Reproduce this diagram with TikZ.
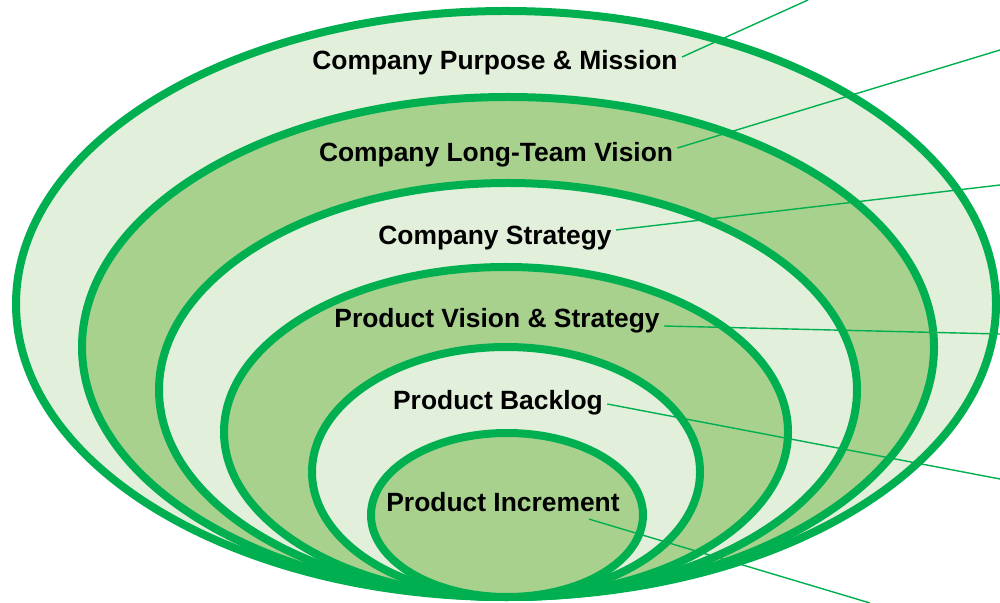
\documentclass[tikz,border=0pt]{standalone}
\usepackage{fontspec}
\setmainfont{Liberation Sans}
\usepackage{tikz}
\definecolor{ringline}{RGB}{0,176,80}
\definecolor{ringlight}{RGB}{226,239,218}
\definecolor{ringdark}{RGB}{169,209,142}

\begin{document}
\begin{tikzpicture}[x=0.5pt,y=-0.5pt,
  ring/.style={draw=ringline,line width=4pt},
  ringtext/.style={font=\fontsize{13.2}{15}\selectfont\bfseries,inner sep=2pt},
  pointer/.style={draw=ringline,line width=0.7pt}]
\fill[white] (0,0) rectangle (1000,603);
\useasboundingbox (0,0) rectangle (1000,603);

\filldraw[ring,fill=ringlight] (506,304) ellipse [x radius=490,y radius=293];
\filldraw[ring,fill=ringdark] (508,347) ellipse [x radius=426,y radius=250];
\filldraw[ring,fill=ringlight] (508,390) ellipse [x radius=349,y radius=207];
\filldraw[ring,fill=ringdark] (506,432) ellipse [x radius=282,y radius=165];
\filldraw[ring,fill=ringlight] (506,472) ellipse [x radius=194,y radius=125];
\filldraw[ring,fill=ringdark] (507,515) ellipse [x radius=136,y radius=82];

\node[ringtext] (purpose) at (495,63) {Company Purpose \& Mission};
\node[ringtext] (longterm) at (496,155) {Company Long-Team Vision};
\node[ringtext] (strategy) at (495,238) {Company Strategy};
\node[ringtext] (pvision) at (497,321) {Product Vision \& Strategy};
\node[ringtext] (backlog) at (498,403) {Product Backlog};
\node[ringtext] (increment) at (503,502) {Product Increment};

\coordinate (purposeend) at (808,0);
\coordinate (longtermend) at (1000,50);
\coordinate (strategyend) at (1000,185);
\coordinate (pvisionend) at (1000,334);
\coordinate (backlogend) at (1000,479);
\coordinate (incrementend) at (870,603);

\draw[pointer] ([yshift=3pt]purpose.east) -- (purposeend);
\draw[pointer] ([yshift=3.5pt]longterm.east) -- (longtermend);
\draw[pointer] ([yshift=4pt]strategy.east) -- (strategyend);
\draw[pointer] ([yshift=-2.5pt]pvision.east) -- (pvisionend);
\draw[pointer] ([yshift=-0.5pt]backlog.east) -- (backlogend);
\draw[pointer] ([xshift=-17.5pt,yshift=-1.5pt]increment.south east) -- (incrementend);
\end{tikzpicture}
\end{document}
